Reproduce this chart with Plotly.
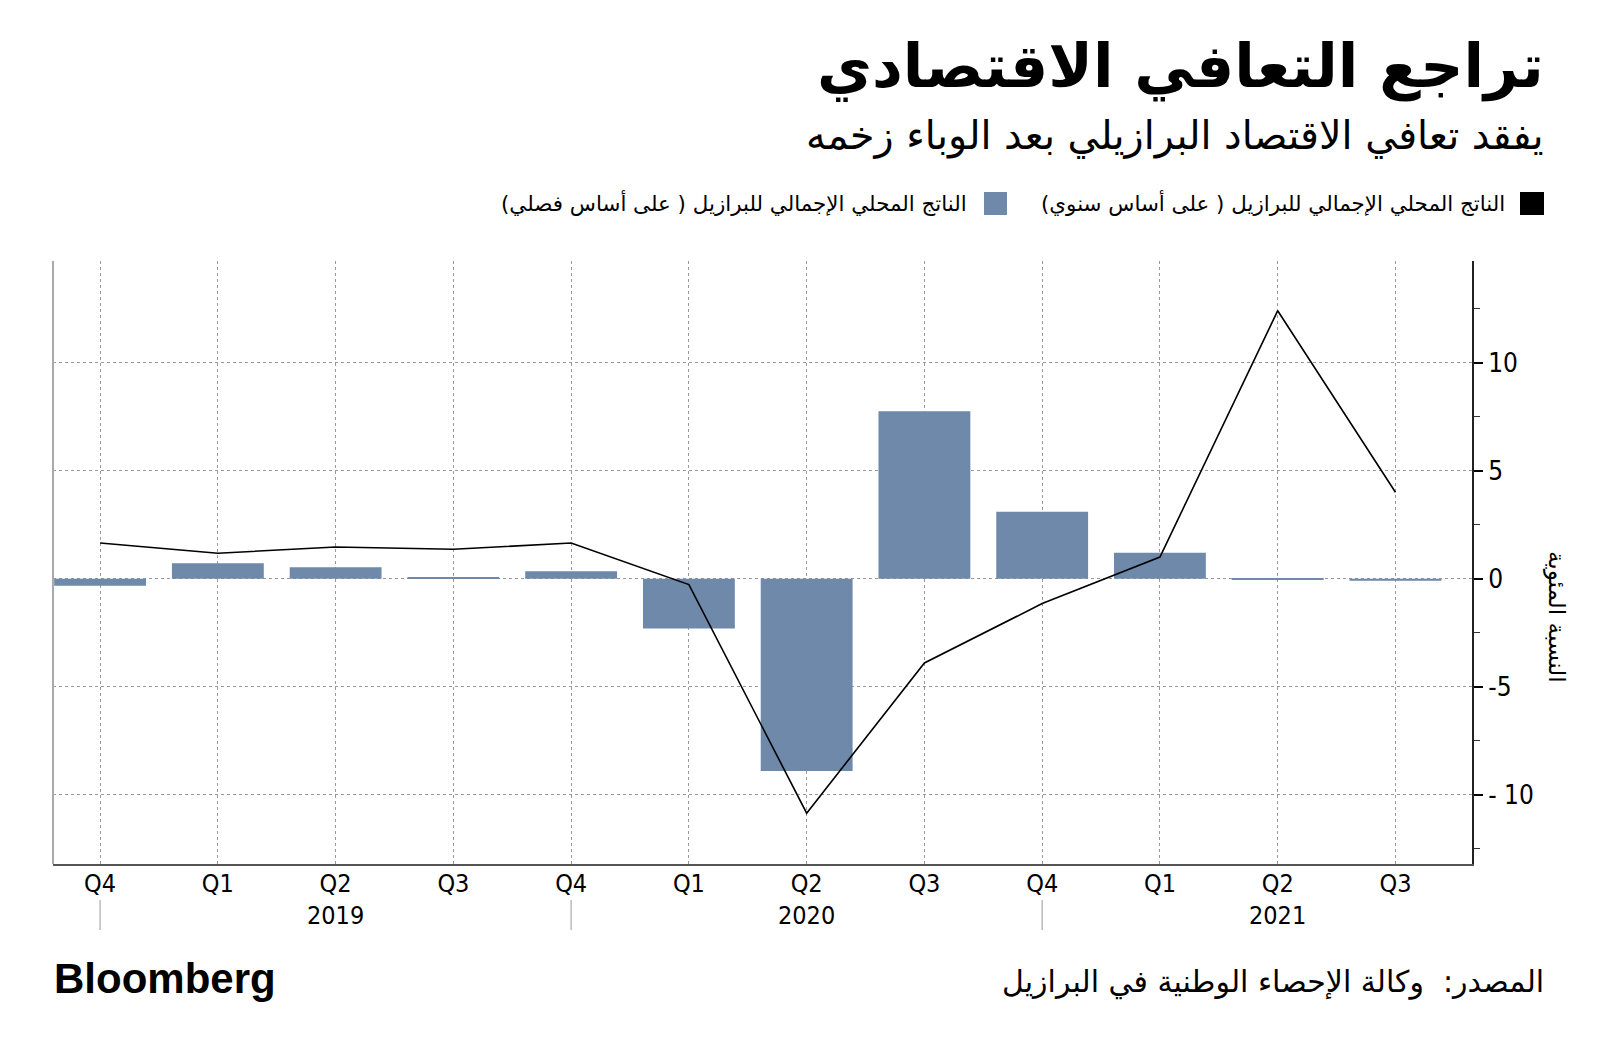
import plotly.graph_objects as go

# ---------------- data ----------------
categories = ["Q4 2018", "Q1 2019", "Q2 2019", "Q3 2019", "Q4 2019",
              "Q1 2020", "Q2 2020", "Q3 2020", "Q4 2020",
              "Q1 2021", "Q2 2021", "Q3 2021"]
quarter_labels = ["Q4", "Q1", "Q2", "Q3", "Q4", "Q1", "Q2", "Q3", "Q4", "Q1", "Q2", "Q3"]
qoq_values = [-0.32, 0.71, 0.53, 0.05, 0.35, -2.3, -8.9, 7.75, 3.1, 1.2, -0.05, -0.1]
yoy_values = [1.65, 1.18, 1.47, 1.36, 1.65, -0.27, -10.85, -3.9, -1.15, 1.0, 12.4, 4.0]
year_labels = ["2019", "2020", "2021"]
year_label_at = ["Q2 2019", "Q2 2020", "Q2 2021"]
year_breaks = ["Q4 2018", "Q4 2019", "Q4 2020"]
y_ticks = [-10, -5, 0, 5, 10]
y_tick_labels = ["- 10", "-5", "0", "5", "10"]

title = "تراجع التعافي الاقتصادي"
subtitle = "يفقد تعافي الاقتصاد البرازيلي بعد الوباء زخمه"
legend_yoy = "الناتج المحلي الإجمالي للبرازيل ( على أساس سنوي)"
legend_qoq = "الناتج المحلي الإجمالي للبرازيل ( على أساس فصلي)"
y_title = "النسبة المئوية"
source = "المصدر:  وكالة الإحصاء الوطنية في البرازيل"

# ---------------- layout geometry ----------------
W, H = 1600, 1056
L, R, T, B = 53, 1472, 261, 864
BAR_COLOR = "#6f89ab"
AR_FONT = "DejaVu Sans"
NUM_FONT = "Liberation Sans Narrow, DejaVu Sans Condensed, Liberation Sans, sans-serif"


def px(x):
    return (x - L) / (R - L)


def py(y):
    return (B - y) / (B - T)


fig = go.Figure()
fig.add_trace(go.Bar(x=categories, y=qoq_values, marker=dict(color=BAR_COLOR, line=dict(width=0)),
                     width=0.78, name=legend_qoq, showlegend=False))
fig.add_trace(go.Scatter(x=categories, y=yoy_values, mode="lines",
                         line=dict(color="#000000", width=1.6), name=legend_yoy, showlegend=False))

annotations = []
shapes = []

# titles
annotations.append(dict(xref="paper", yref="paper", x=px(1546), y=py(66), xanchor="right", yanchor="middle",
                        text=f"<b>{title}</b>", showarrow=False,
                        font=dict(family=AR_FONT, size=60, color="#000")))
annotations.append(dict(xref="paper", yref="paper", x=px(1546), y=py(136), xanchor="right", yanchor="middle",
                        text=subtitle, showarrow=False,
                        font=dict(family=AR_FONT, size=39.6, color="#000")))

# legend (RTL: swatch on the right of its text)
shapes.append(dict(type="rect", xref="paper", yref="paper", x0=px(1520), x1=px(1544), y0=py(215), y1=py(192),
                   fillcolor="#000", line=dict(width=0)))
annotations.append(dict(xref="paper", yref="paper", x=px(1507), y=py(203), xanchor="right", yanchor="middle",
                        text=legend_yoy, showarrow=False, font=dict(family=AR_FONT, size=21.4, color="#000")))
shapes.append(dict(type="rect", xref="paper", yref="paper", x0=px(984), x1=px(1007), y0=py(215), y1=py(192),
                   fillcolor=BAR_COLOR, line=dict(width=0)))
annotations.append(dict(xref="paper", yref="paper", x=px(969), y=py(203), xanchor="right", yanchor="middle",
                        text=legend_qoq, showarrow=False, font=dict(family=AR_FONT, size=21.4, color="#000")))

# y axis title (rotated)
annotations.append(dict(xref="paper", yref="paper", x=px(1557), y=py(617), xanchor="center", yanchor="middle",
                        text=y_title, textangle=90, showarrow=False,
                        font=dict(family=AR_FONT, size=23, color="#000")))

# year labels
for lab, cat in zip(year_labels, year_label_at):
    annotations.append(dict(xref="x", yref="paper", x=cat, y=py(915), xanchor="center", yanchor="middle",
                            text=lab, showarrow=False, font=dict(family=NUM_FONT, size=25, color="#000")))
# year separators
for cat in year_breaks:
    shapes.append(dict(type="line", xref="x", yref="paper", x0=cat, x1=cat, y0=py(900), y1=py(930),
                       line=dict(color="#bbbbbb", width=1.5)))

# left border line
shapes.append(dict(type="line", xref="paper", yref="paper", x0=0, x1=0, y0=0, y1=1,
                   line=dict(color="#aaaaaa", width=2)))

# footer
annotations.append(dict(xref="paper", yref="paper", x=px(52), y=py(978), xanchor="left", yanchor="middle",
                        text="<b>Bloomberg</b>", showarrow=False,
                        font=dict(family="Liberation Sans, Arial, sans-serif", size=42, color="#000")))
annotations.append(dict(xref="paper", yref="paper", x=px(1546), y=py(982), xanchor="right", yanchor="middle",
                        text=source, showarrow=False, font=dict(family=AR_FONT, size=30, color="#000")))

fig.update_layout(
    width=W, height=H,
    margin=dict(l=L, r=W - R, t=T, b=H - B, pad=0),
    paper_bgcolor="#ffffff", plot_bgcolor="#ffffff",
    showlegend=False,
    annotations=annotations,
    shapes=shapes,
    xaxis=dict(
        type="category", categoryorder="array", categoryarray=categories,
        range=[-0.4, 11.65],
        tickvals=categories, ticktext=quarter_labels,
        tickfont=dict(family=NUM_FONT, size=25, color="#000"),
        ticklabelstandoff=-4,
        showgrid=True, gridcolor="#999999", griddash="dot", gridwidth=1,
        showline=True, linecolor="#555555", linewidth=1.5,
        ticks="", zeroline=False, fixedrange=True,
    ),
    yaxis=dict(
        side="right", range=[-13.2, 14.7],
        tickvals=y_ticks, ticktext=y_tick_labels,
        tickfont=dict(family=NUM_FONT, size=26, color="#000"),
        showgrid=True, gridcolor="#999999", griddash="dot", gridwidth=1,
        showline=True, linecolor="#222222", linewidth=2,
        ticks="outside", ticklen=9, tickwidth=2, tickcolor="#000",
        minor=dict(dtick=2.5, tick0=0, ticks="outside", ticklen=6, tickwidth=1, tickcolor="#333", showgrid=False),
        zeroline=False, fixedrange=True,
    ),
)

fig.write_html("out.html", include_plotlyjs=True, full_html=True,
               config={"displayModeBar": False},
               post_script="document.body.style.margin='0';")
